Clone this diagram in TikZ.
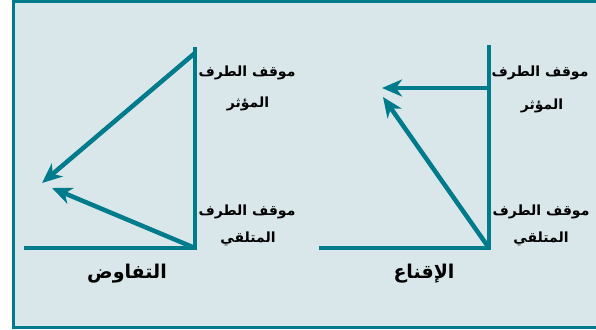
\documentclass[tikz,border=0pt]{standalone}
\usepackage{fontspec}
\usetikzlibrary{arrows.meta,positioning}
\newfontfamily\arabicfont[Script=Arabic]{DejaVu Sans}
\TeXXeTstate=1
\definecolor{tealline}{HTML}{007B8B}
\definecolor{panelbg}{HTML}{D9E7EB}

\begin{document}
\begin{tikzpicture}[
  x=1pt, y=-1pt,
  axis/.style={draw=tealline, line width=4.5pt},
  move/.style={draw=tealline, line width=4.5pt, -{Stealth[length=20pt,width=17pt,inset=6pt]}, shorten <=1pt},
  stance/.style={font=\arabicfont\bfseries\fontsize{14}{16}\selectfont, text=black, inner sep=0pt},
  title/.style={font=\arabicfont\bfseries\fontsize{19}{21}\selectfont, text=black, inner sep=0pt}
]
\useasboundingbox (0,0) rectangle (596,329);
\fill[panelbg] (13,1) rectangle (600,328);
\draw[tealline, line width=3.5pt] (600,1.5) -- (13.5,1.5) -- (13.5,327.5) -- (600,327.5);

\coordinate (nTop) at (195,47);
\coordinate (nCorner) at (195,248);
\coordinate (nLeft) at (24,248);
\coordinate (nTipA) at (42,183);
\coordinate (nTipB) at (52,188);
\draw[axis] (nTop) -- (nCorner) -- (nLeft);
\draw[move] (195,53) -- (nTipA);
\draw[move] (nCorner) -- (nTipB);
\node[stance] (nInf1) at (247,73) {\beginR موقف الطرف\endR};
\node[stance] (nInf2) at (248,104) {\beginR المؤثر\endR};
\node[stance] (nRec1) at (247,212) {\beginR موقف الطرف\endR};
\node[stance] (nRec2) at (248,239) {\beginR المتلقي\endR};
\node[title] (nName) at (127,274) {\beginR التفاوض\endR};

\coordinate (pTop) at (489,45);
\coordinate (pCorner) at (489,248);
\coordinate (pLeft) at (319,248);
\coordinate (pMid) at (489,88);
\coordinate (pTipA) at (382,88);
\coordinate (pTipB) at (383,97);
\draw[axis] (pTop) -- (pCorner) -- (pLeft);
\draw[move] (pMid) -- (pTipA);
\draw[move] (pCorner) -- (pTipB);
\node[stance] (pInf1) at (540,73) {\beginR موقف الطرف\endR};
\node[stance] (pInf2) at (542,106) {\beginR المؤثر\endR};
\node[stance] (pRec1) at (541,212) {\beginR موقف الطرف\endR};
\node[stance] (pRec2) at (541,239) {\beginR المتلقي\endR};
\node[title] (pName) at (424,274) {\beginR الإقناع\endR};
\end{tikzpicture}
\end{document}
